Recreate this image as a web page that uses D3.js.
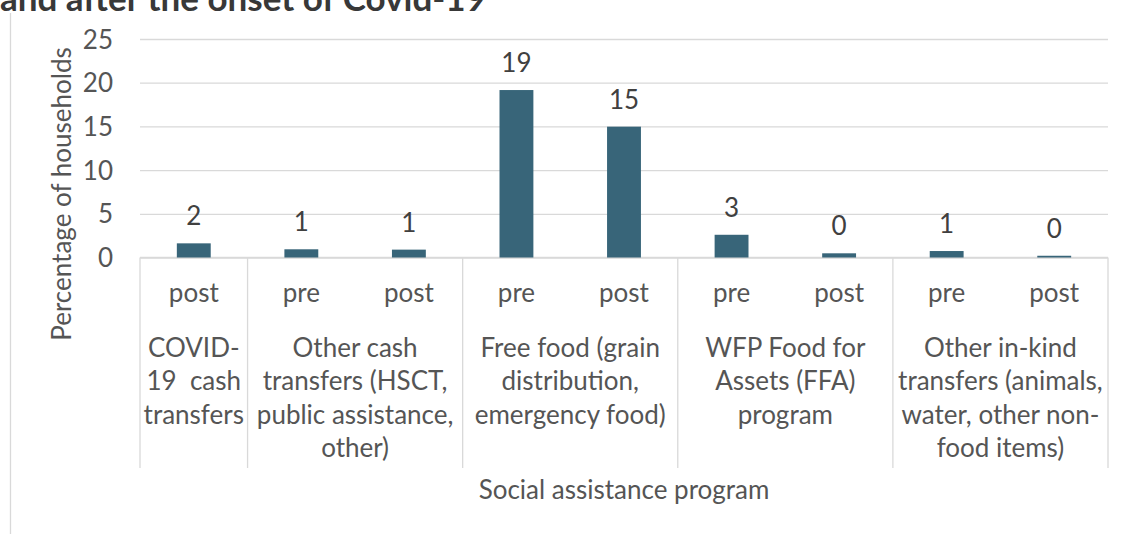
<!DOCTYPE html>
<html>
<head>
<meta charset="utf-8">
<script src="https://cdn.jsdelivr.net/npm/d3@7"></script>
<style>
  html, body { margin: 0; padding: 0; background: #fff; }
  svg { display: block; }
  text { font-family: Lato, "Open Sans", sans-serif; }
</style>
</head>
<body>
<svg id="chart" width="1127" height="534"></svg>
<script>
// ---- data ----
const periods = ["post", "pre", "post", "pre", "post", "pre", "post", "pre", "post"];
const groupOf = [0, 1, 1, 2, 2, 3, 3, 4, 4];
const values = [1.62, 0.94, 0.9, 19.16, 14.97, 2.6, 0.48, 0.74, 0.2];
const groupLabels = [
  ["COVID-", "19  cash", "transfers"],
  ["Other cash", "transfers (HSCT,", "public assistance,", "other)"],
  ["Free food (grain", "distribution,", "emergency food)"],
  ["WFP Food for", "Assets (FFA)", "program"],
  ["Other in-kind", "transfers (animals,", "water, other non-", "food items)"]
];
const yTicks = [0, 5, 10, 15, 20, 25];
const titleText = "and after the onset of Covid-19";
const yTitle = "Percentage of households";
const xTitle = "Social assistance program";

// ---- layout ----
(function () {
const svg = d3.select("#chart");
const pL = 140, pR = 1108, pT = 39, pB = 257.5;
const FS = 26;
const gridColor = "#d9d9d9";
const txt = "#555555";

const slots = d3.range(periods.length);
const x = d3.scaleBand().domain(slots).range([pL, pR]).paddingInner(0.685).paddingOuter(0.3425);
const xs = d3.scaleBand().domain(slots).range([pL, pR]); // full slot
const y = d3.scaleLinear().domain([0, 25]).range([pB, pT]);

// title (cut off at top, as in the source image)
svg.append("text").attr("x", 0).attr("y", 11)
  .attr("font-size", 35).attr("font-weight", "bold").attr("fill", "#383838")
  .text(titleText);

// chart border line on left
svg.append("line").attr("x1", 10.5).attr("x2", 10.5).attr("y1", 13).attr("y2", 534)
  .attr("stroke", gridColor).attr("stroke-width", 1.3);

// gridlines
const yAxis = d3.axisLeft(y).tickValues(yTicks).tickSize(-(pR - pL)).tickPadding(27);
const gy = svg.append("g").attr("transform", `translate(${pL},0)`).call(yAxis);
gy.select(".domain").remove();
gy.selectAll(".tick line").attr("stroke", gridColor).attr("stroke-width", 1.3);
gy.selectAll(".tick text").attr("font-size", FS).attr("fill", txt)
  .attr("font-family", "Lato, 'Open Sans', sans-serif").attr("dy", "0.35em");

// group boundaries
const groupIdx = d3.range(groupLabels.length);
const groupStart = groupIdx.map(g => xs(slots.find(i => groupOf[i] === g)));
const groupEnd = groupIdx.map(g => { const s = slots.filter(i => groupOf[i] === g); return xs(s[s.length - 1]) + xs.bandwidth(); });
const sepX = groupStart.concat([pR]);
svg.append("g").selectAll("line").data(sepX).join("line")
  .attr("x1", d => d).attr("x2", d => d).attr("y1", pB).attr("y2", 468)
  .attr("stroke", gridColor).attr("stroke-width", 1.3);
svg.append("line").attr("x1", pL).attr("x2", pR).attr("y1", pB).attr("y2", pB)
  .attr("stroke", gridColor).attr("stroke-width", 1.3);

// bars
svg.append("g").selectAll("rect").data(values).join("rect")
  .attr("x", (d, i) => x(i)).attr("width", x.bandwidth())
  .attr("y", d => y(d)).attr("height", d => y(0) - y(d))
  .attr("fill", "#386579");

// data labels
svg.append("g").selectAll("text").data(values).join("text")
  .attr("x", (d, i) => x(i) + x.bandwidth() / 2).attr("y", d => y(d) - 18)
  .attr("text-anchor", "middle").attr("font-size", FS).attr("fill", "#404040")
  .text(d => d3.format(".0f")(d));

// period labels
svg.append("g").selectAll("text").data(periods).join("text")
  .attr("x", (d, i) => xs(i) + xs.bandwidth() / 2).attr("y", 302)
  .attr("text-anchor", "middle").attr("font-size", FS).attr("fill", txt)
  .text(d => d);

// group labels
const gl = svg.append("g").selectAll("text").data(groupLabels).join("text")
  .attr("text-anchor", "middle").attr("font-size", FS).attr("fill", txt)
  .style("white-space", "pre");
gl.each(function(lines, g) {
  const cx = (groupStart[g] + groupEnd[g]) / 2;
  d3.select(this).selectAll("tspan").data(lines).join("tspan")
    .attr("x", cx).attr("y", (d, k) => 357 + k * 33.3).text(d => d);
});

// axis titles
svg.append("text").attr("transform", "translate(71,194) rotate(-90)")
  .attr("text-anchor", "middle").attr("font-size", FS).attr("fill", txt)
  .text(yTitle);
svg.append("text").attr("x", (pL + pR) / 2).attr("y", 499)
  .attr("text-anchor", "middle").attr("font-size", FS).attr("fill", txt)
  .text(xTitle);
})();
</script>
</body>
</html>
